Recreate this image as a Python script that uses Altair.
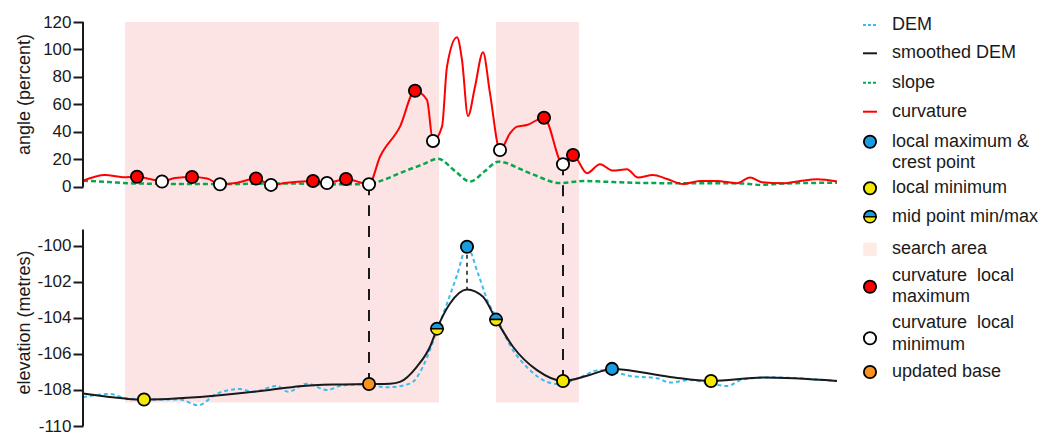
import altair as alt
import pandas as pd

# ---------------- data (distance along profile, arbitrary units 0-755) ----------------
curv_d = [0, 22, 40, 54, 67, 79, 92, 109, 124, 137, 154, 173, 188, 204, 230, 244, 263, 286, 297, 317,
          332, 344, 350, 359, 364, 374, 379, 385, 392, 400, 407, 417, 427, 434, 444, 461, 480, 490, 504, 517,
          530, 544, 555, 570, 584, 600, 617, 634, 654, 667, 679, 700, 717, 734, 754]
curv_a = [4.6, 8.7, 7.1, 7.4, 5.8, 4.0, 6.5, 7.3, 6.2, 2.0, 3.1, 6.2, 1.5, 3.1, 4.4, 2.9, 5.8, 2.0, 22, 43.9,
          70, 63.3, 33.5, 43.9, 87.5, 108.9, 92.4, 51.6, 72.9, 98, 68.1, 26.9, 39, 43.9, 45.1, 50.4, 16.5, 23.3, 10, 16.5,
          11.9, 12.9, 6.8, 8.7, 5.8, 2.2, 4.4, 4.4, 2.7, 6.8, 3.4, 2.7, 4.4, 5.6, 3.9]

slope_d = [0, 25, 50, 100, 150, 200, 250, 285, 300, 320, 340, 355, 372, 387, 402, 415, 447, 477, 500, 530,
           560, 600, 660, 677, 700, 754]
slope_a = [4.6, 3.6, 2.6, 2.2, 2.2, 2.6, 2.0, 2.0, 5.0, 11, 16.5, 20.6, 11.6, 3.9, 11.6, 18.4, 10, 2.8, 4.3, 3.6,
           2.9, 2.7, 2.6, 1.5, 2.5, 3.1]

dem_d = [0, 27, 42, 70, 97, 115, 134, 157, 170, 194, 205, 224, 244, 260, 280, 304, 327, 344, 354, 364,
         374, 384, 395, 405, 414, 427, 447, 464, 477, 494, 517, 527, 547, 574, 587, 607, 627, 644, 660, 687, 754]
dem_e = [-108.4, -108.22, -108.45, -108.53, -108.53, -108.85, -108.2, -107.95, -108.1, -107.78,
         -108.1, -107.65, -108.0, -107.74, -107.7, -107.85, -107.65, -106.2, -104.68, -103.2,
         -101.63, -100.05, -101.53, -103.11, -104.03, -105.52, -106.9, -107.55, -107.68, -107.37,
         -106.9, -106.96, -107.22, -107.35, -107.59, -107.45, -107.65, -107.78, -107.41, -107.3, -107.5]

smooth_d = [0, 42, 61, 117, 184, 217, 250, 286, 307, 317, 334, 347, 354, 367, 384, 400, 413, 430, 454, 480,
            505, 529, 587, 628, 680, 754]
smooth_e = [-108.2, -108.48, -108.53, -108.39, -108.02, -107.79, -107.7, -107.67, -107.65, -107.55,
            -106.7, -105.6, -104.6, -103.2, -102.42, -102.83, -104.09, -105.6, -106.9, -107.5,
            -107.2, -106.83, -107.28, -107.5, -107.31, -107.5]

curv_max_d = [54, 109, 173, 230, 263, 332, 461, 490]
curv_max_a = [7.4, 7.3, 6.2, 4.4, 5.8, 70, 50.4, 23.3]
curv_min_d = [79, 137, 188, 244, 286, 350, 417, 480]
curv_min_a = [4.0, 2.0, 1.5, 2.9, 2.0, 33.5, 26.9, 16.5]

local_max_d = [384, 529]
local_max_e = [-100.05, -106.83]
local_min_d = [61, 480, 628]
local_min_e = [-108.53, -107.5, -107.5]
mid_d = [354, 413]
mid_e = [-104.6, -104.09]
base_d = [286]
base_e = [-107.67]

search_start = [42, 413]
search_end = [356, 496]
search_top_angle = 120
search_bottom_elev = -108.7

link_d = [286, 480]
link_angle = [2.0, 16.5]
link_elev = [-107.67, -107.5]
crest_d = [384]
crest_top = [-100.05]
crest_bottom = [-102.42]

angle_ticks = [0, 20, 40, 60, 80, 100, 120]
elev_ticks = [-110, -108, -106, -104, -102, -100]
angle_axis_range = [0, 120]
elev_axis_range = [-110, -99.1]

legend_text = ["DEM", "smoothed DEM", "slope", "curvature", "local maximum &", "crest point",
               "local minimum", "mid point min/max", "search area", "curvature\u00a0 local", "maximum",
               "curvature\u00a0 local", "minimum", "updated base"]

# ---------------- style / layout ----------------
FONT = "Liberation Sans"
BLACK = "#1a1a1a"
RED = "#ff0000"
GREEN = "#0aa64f"
DEM_BLUE = "#3bbcf0"
BLUE = "#1a9ce0"
YELLOW = "#f5e800"
ORANGE = "#f7931e"
PINK = "#fde4e4"
PEACH = "#fdebe4"
W, TOP_H, BOT_H, LEG_W = 755, 186, 218, 212
PT_SIZE = 150
TOP_HALF = "M-1,0A1,1,0,0,1,1,0Z"
BOTTOM_HALF = "M-1,0A1,1,0,0,0,1,0Z"

x_scale = alt.Scale(domain=[0, 755], nice=False, zero=False)
top_scale = alt.Scale(domain=[-15.3, 120], nice=False, zero=False)
bot_scale = alt.Scale(domain=[-110, -97.9], nice=False, zero=False)


def axis(values, title, ty):
    return alt.Axis(values=values, domain=False, grid=False, tickSize=10, tickWidth=2, tickColor=BLACK,
                    labelFont=FONT, labelFontSize=17, labelColor=BLACK, labelPadding=2,
                    labelExpr="'' + datum.value",
                    title=title, titleFont=FONT, titleFontSize=18, titleFontWeight="normal",
                    titleColor=BLACK, titleX=-50, titleY=ty)


ax_top = axis(angle_ticks, "angle (percent)", 72)
ax_bot = axis(elev_ticks, "elevation (metres)", 114)


def X(f):
    return alt.X(f"{f}:Q", scale=x_scale, axis=None)


def TY(f):
    return alt.Y(f"{f}:Q", scale=top_scale, axis=ax_top)


def BY(f):
    return alt.Y(f"{f}:Q", scale=bot_scale, axis=ax_bot)


def circles(d, v, yfun, fill):
    df = pd.DataFrame({"d": d, "v": v})
    return alt.Chart(df).mark_point(shape="circle", filled=True, fill=fill, stroke="black",
                                    strokeWidth=1.8, size=PT_SIZE, opacity=1).encode(x=X("d"), y=yfun("v"))


search_df = pd.DataFrame({"start": search_start, "end": search_end,
                          "top": [search_top_angle] * len(search_start),
                          "bottom": [search_bottom_elev] * len(search_start)})

# ---------------- top panel ----------------
top_search = alt.Chart(search_df).mark_rect(color=PINK).encode(
    x=X("start"), x2="end:Q", y=TY("top"), y2=alt.value(TOP_H))
top_links = alt.Chart(pd.DataFrame({"d": link_d, "a": link_angle})).mark_rule(
    color=BLACK, strokeWidth=2, strokeDash=[11, 10]).encode(x=X("d"), y=TY("a"), y2=alt.value(TOP_H))
slope_line = alt.Chart(pd.DataFrame({"d": slope_d, "a": slope_a})).mark_line(
    color=GREEN, strokeWidth=2.5, strokeDash=[5, 3], interpolate="monotone").encode(x=X("d"), y=TY("a"))
curv_line = alt.Chart(pd.DataFrame({"d": curv_d, "a": curv_a})).mark_line(
    color=RED, strokeWidth=2, interpolate="monotone").encode(x=X("d"), y=TY("a"))
top_axis_line = alt.Chart(pd.DataFrame({"lo": [angle_axis_range[0]], "hi": [angle_axis_range[1]]})).mark_rule(
    color=BLACK, strokeWidth=2).encode(x=alt.value(0), y=TY("lo"), y2="hi:Q")

top = alt.layer(
    top_search, top_links, slope_line, curv_line,
    circles(curv_min_d, curv_min_a, TY, "white"),
    circles(curv_max_d, curv_max_a, TY, RED),
    top_axis_line,
).properties(width=W, height=TOP_H)

# ---------------- bottom panel ----------------
bot_search = alt.Chart(search_df).mark_rect(color=PINK).encode(
    x=X("start"), x2="end:Q", y=BY("bottom"), y2=alt.value(0))
bot_links = alt.Chart(pd.DataFrame({"d": link_d, "e": link_elev})).mark_rule(
    color=BLACK, strokeWidth=2, strokeDash=[11, 10]).encode(x=X("d"), y=BY("e"), y2=alt.value(0))
crest_link = alt.Chart(pd.DataFrame({"d": crest_d, "t": crest_top, "b": crest_bottom})).mark_rule(
    color=BLACK, strokeWidth=1.5, strokeDash=[4, 4]).encode(x=X("d"), y=BY("t"), y2="b:Q")
dem_line = alt.Chart(pd.DataFrame({"d": dem_d, "e": dem_e})).mark_line(
    color=DEM_BLUE, strokeWidth=2, strokeDash=[4, 3], interpolate="monotone").encode(x=X("d"), y=BY("e"))
smooth_line = alt.Chart(pd.DataFrame({"d": smooth_d, "e": smooth_e})).mark_line(
    color=BLACK, strokeWidth=2, interpolate="monotone").encode(x=X("d"), y=BY("e"))
mid_df = pd.DataFrame({"d": mid_d, "e": mid_e})
mid_top = alt.Chart(mid_df).mark_point(shape=TOP_HALF, filled=True, fill=BLUE, stroke="black",
                                       strokeWidth=1.6, size=PT_SIZE, opacity=1).encode(x=X("d"), y=BY("e"))
mid_bot = alt.Chart(mid_df).mark_point(shape=BOTTOM_HALF, filled=True, fill=YELLOW, stroke="black",
                                       strokeWidth=1.6, size=PT_SIZE, opacity=1).encode(x=X("d"), y=BY("e"))
bot_axis_line = alt.Chart(pd.DataFrame({"lo": [elev_axis_range[0]], "hi": [elev_axis_range[1]]})).mark_rule(
    color=BLACK, strokeWidth=2).encode(x=alt.value(0), y=BY("lo"), y2="hi:Q")

bottom = alt.layer(
    bot_search, bot_links, crest_link, dem_line, smooth_line,
    circles(local_max_d, local_max_e, BY, BLUE),
    circles(local_min_d, local_min_e, BY, YELLOW),
    circles(base_d, base_e, BY, ORANGE),
    mid_top, mid_bot,
    bot_axis_line,
).properties(width=W, height=BOT_H)

# ---------------- legend (layout positions in pixels, relative to the top of the plot) ----------------
LEG_TEXT_Y = [3, 31.3, 60.7, 89.7, 119.7, 140.7, 166.3, 194.7, 227.3, 254, 274.7, 301.3, 323, 349.7]
SYM_X, TXT_X = 32, 54


def lx(f):
    return alt.X(f"{f}:Q", scale=None, axis=None)


def ly(f):
    return alt.Y(f"{f}:Q", scale=None, axis=None)


leg_txt = alt.Chart(pd.DataFrame({"t": legend_text, "x": [TXT_X] * len(legend_text), "y": LEG_TEXT_Y})).mark_text(
    align="left", baseline="middle", font=FONT, fontSize=18, color=BLACK).encode(x=lx("x"), y=ly("y"), text="t:N")


def leg_line(y, color, dash=None, width=2):
    kw = dict(color=color, strokeWidth=width)
    if dash:
        kw["strokeDash"] = dash
    return alt.Chart(pd.DataFrame({"x1": [SYM_X - 7], "x2": [SYM_X + 7], "y": [y]})).mark_rule(**kw).encode(
        x=lx("x1"), x2="x2:Q", y=ly("y"))


def leg_sym(y, fill, shape="circle", sw=1.8):
    return alt.Chart(pd.DataFrame({"x": [SYM_X], "y": [y]})).mark_point(
        shape=shape, filled=True, fill=fill, stroke="black", strokeWidth=sw, size=PT_SIZE, opacity=1).encode(
        x=lx("x"), y=ly("y"))


leg_square = alt.Chart(pd.DataFrame({"x": [SYM_X], "y": [227.3]})).mark_square(
    color=PEACH, size=180, opacity=1).encode(x=lx("x"), y=ly("y"))

legend = alt.layer(
    leg_line(3, DEM_BLUE, [3, 2]),
    leg_line(31.3, BLACK),
    leg_line(60.7, GREEN, [3, 2]),
    leg_line(89.7, RED),
    leg_sym(119.7, BLUE),
    leg_sym(166.3, YELLOW),
    leg_sym(194.7, BLUE, TOP_HALF, 1.6),
    leg_sym(194.7, YELLOW, BOTTOM_HALF, 1.6),
    leg_square,
    leg_sym(264.7, RED),
    leg_sym(316.3, "white"),
    leg_sym(350, ORANGE),
    leg_txt,
).properties(width=LEG_W, height=TOP_H)

blank = alt.Chart(pd.DataFrame({"v": [0]})).mark_point(opacity=0).encode(
    x=alt.value(0), y=alt.value(0)).properties(width=LEG_W, height=BOT_H)

chart = alt.concat(top, legend, bottom, blank, columns=2, spacing=0, bounds="flush").properties(
    padding={"left": 14, "top": 13, "right": 0, "bottom": 0}
).configure_view(stroke=None)

chart.save("out.html", embed_options={"renderer": "svg", "actions": False})
